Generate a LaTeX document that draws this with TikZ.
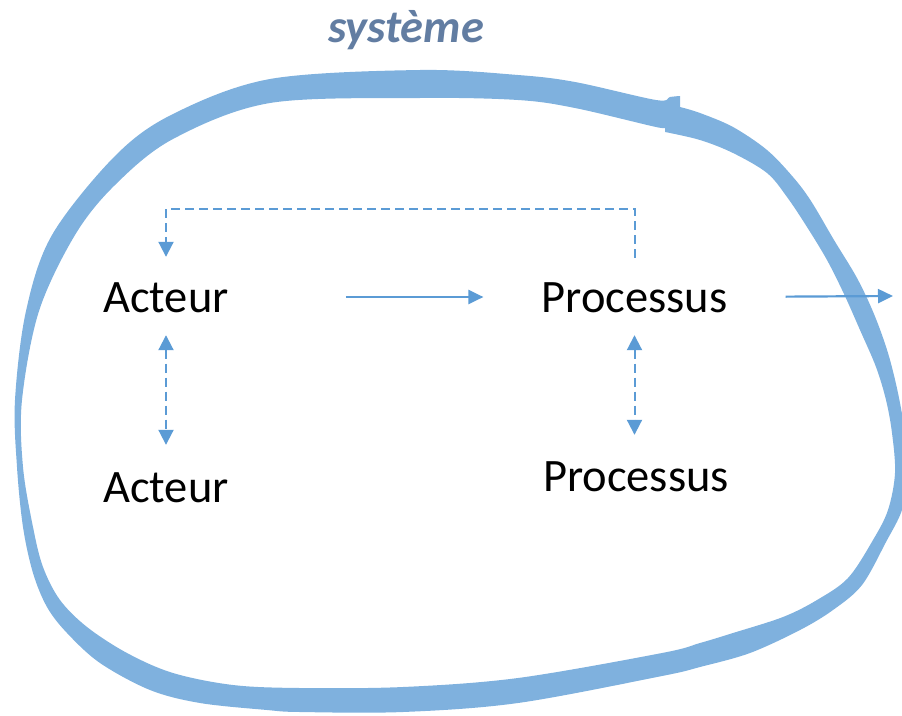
\documentclass[tikz,border=0pt]{standalone}
\usepackage{fontspec}
\setmainfont{Carlito}
\usetikzlibrary{arrows.meta}
\definecolor{linkblue}{RGB}{91,155,213}
\definecolor{titleblue}{RGB}{98,125,162}
\tikzset{
  label/.style={inner sep=0pt, text height=30pt, text depth=0pt,
    font=\fontsize{46.5}{50}\selectfont},
  flow/.style={draw=linkblue, line width=2.2pt,
    -{Triangle[length=15pt,width=14pt]}},
  link/.style={draw=linkblue, line width=2pt, dash pattern=on 9pt off 5pt,
    -{Triangle[length=15pt,width=15pt]}},
  duallink/.style={link, {Triangle[length=15pt,width=15pt]}-{Triangle[length=15pt,width=15pt]}},
  boundary/.style={fill=linkblue, fill opacity=0.78, draw=none, even odd rule}
}
\begin{document}
\begin{tikzpicture}[x=1pt, y=-1pt]
\useasboundingbox (0,0) rectangle (902,715);

% title of the system
\node[anchor=base, inner sep=0pt, text=titleblue,
  font=\fontsize{46.5}{50}\selectfont\bfseries\itshape] (title) at (406,42) {système};

% actors and processes
\node[label] (a1) at (166,297) {Acteur};
\node[label] (a2) at (166,487) {Acteur};
\node[label] (p1) at (634.5,297) {Processus};
\node[label] (p2) at (636,476) {Processus};
\coordinate (out) at (893,296);

% connectors
\draw[flow, shorten <=117pt, shorten >=58pt] (a1.east) -- (p1.west);
\draw[flow, shorten <=58pt] (p1.east) -- (out);
\draw[link, shorten <=24pt, shorten >=25pt] (p1.north) -- ++(0,-73) -| (a1.north);
\draw[duallink, shorten <=23pt, shorten >=27pt] (a1.south) -- (a2.north);
\draw[duallink, shorten <=23pt, shorten >=26pt] (p1.south) -- (p1.south |- p2.north);

% hand-drawn system boundary (outer edge and inner edge of the stroke)
\path[boundary]
  plot[smooth, tension=0.55] coordinates {
    (680,107) (700,113) (733,127) (767,150) (793,177) (811,201)
    (834,240) (857,278) (874,314) (888,353) (898,393) (905,433)
    (909,473) (902,510) (886,542) (862,585) (833,610) (800,630)
    (750,653) (700,667) (662,676) (518,703) (403,712) (300,712)
    (267,710) (200,703) (150,690) (100,663) (67,633) (47,607)
    (33,573) (23,527) (17,467) (15,400)
    (26,311) (52,235) (115,156) (173,114) (270,79) (420,70)
    (518,75) (575,82) (656,100) (670,97) (680,96)}
  -- cycle
  plot[smooth, tension=0.55] coordinates {
    (665,132) (700,140) (733,153) (767,173) (787,197) (807,227)
    (827,260) (844,294) (860,330) (876,367) (886,400) (892,433)
    (895,473) (888,510) (873,540) (848,578) (817,600) (783,617)
    (733,633) (700,643) (662,653) (518,678) (403,687) (300,688)
    (233,685) (173,673) (127,653) (87,627) (60,600) (43,567)
    (33,527) (23,467) (22,400) (39,311)
    (75,235) (115,185) (173,139) (270,103) (420,98) (518,100)
    (575,108) (656,127) (665,127)}
  -- cycle;
\end{tikzpicture}
\end{document}
